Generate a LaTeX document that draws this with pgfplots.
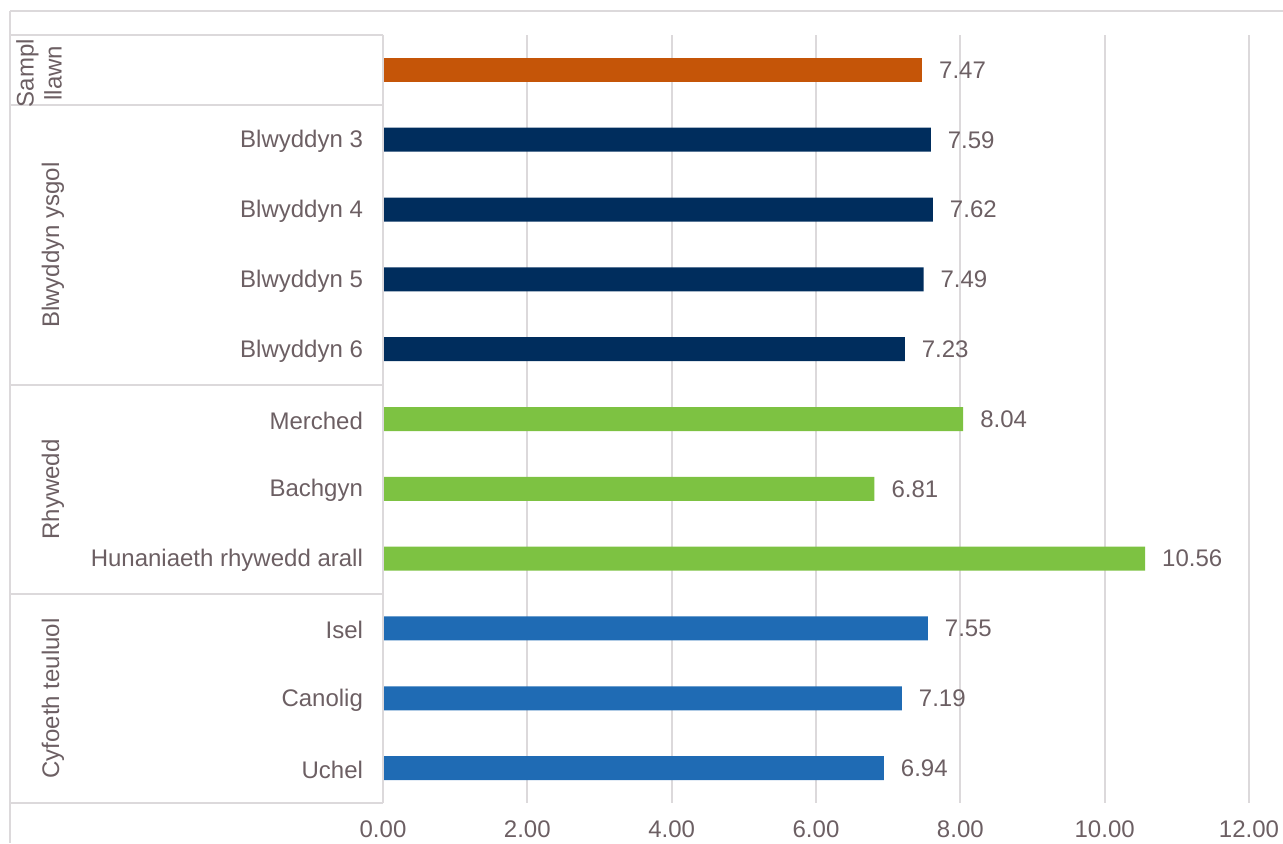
\documentclass[border=0pt]{standalone}
\usepackage{pgfplots}
\pgfplotsset{compat=1.18}
\usepackage{fontspec}
\setmainfont{Liberation Sans}
\definecolor{txt}{RGB}{108,95,99}
\definecolor{gridc}{RGB}{220,217,219}
\definecolor{corange}{RGB}{197,85,8}
\definecolor{cnavy}{RGB}{0,45,93}
\definecolor{cgreen}{RGB}{125,194,66}
\definecolor{cblue}{RGB}{31,107,180}
\begin{document}
\begin{tikzpicture}
\useasboundingbox (0,0) rectangle (641.5pt,421.5pt);
\begin{axis}[
  at={(191.5pt,20pt)}, anchor=south west,
  scale only axis, width=433pt, height=384pt,
  xbar, bar width=12pt,
  xmin=0, xmax=12, ymin=-0.5, ymax=10.5, y dir=reverse,
  xtick={0,2,4,6,8,10,12},
  /pgf/number format/assume math mode=true,
  /pgf/number format/fixed,
  /pgf/number format/fixed zerofill,
  /pgf/number format/precision=2,
  xmajorgrids, grid style={gridc, line width=1pt},
  axis line style={draw=none},
  ytick={0,1,2,3,4,5,6,7,8,9,10},
  yticklabels={,Blwyddyn 3,Blwyddyn 4,Blwyddyn 5,Blwyddyn 6,Merched,Bachgyn,Hunaniaeth rhywedd arall,Isel,Canolig,Uchel},
  major tick length=0pt,
  yticklabel style={font=\fontsize{12}{14}\selectfont, text=txt, xshift=-6.5pt, yshift=-0.8pt},
  xticklabel style={font=\fontsize{12}{14}\selectfont, text=txt, yshift=-5.5pt},
  nodes near coords,
  nodes near coords style={font=\fontsize{12}{14}\selectfont, text=txt, anchor=west, xshift=5pt},
  clip=false,
]
\addplot[fill=corange, draw=none, bar shift=0pt] coordinates {(7.47,0)};
\addplot[fill=cnavy, draw=none, bar shift=0pt] coordinates {(7.59,1) (7.62,2) (7.49,3) (7.23,4)};
\addplot[fill=cgreen, draw=none, bar shift=0pt] coordinates {(8.04,5) (6.81,6) (10.56,7)};
\addplot[fill=cblue, draw=none, bar shift=0pt] coordinates {(7.55,8) (7.19,9) (6.94,10)};
\end{axis}
\begin{scope}[x=0.5pt, y=-0.5pt, shift={(0pt,421.5pt)}]
  \draw[gridc, line width=1pt] (10,11) -- (1283,11);
  \draw[gridc, line width=1pt] (10,11) -- (10,843);
  \foreach \yy in {35,105,385,594,803} \draw[gridc, line width=1pt] (10,\yy) -- (383,\yy);
  \draw[gridc, line width=1pt] (383,35) -- (383,803);
  \node[rotate=90, text=txt, font=\fontsize{12}{14}\selectfont, align=center] at (39,73) {Sampl\\llawn};
  \node[rotate=90, text=txt, font=\fontsize{12}{14}\selectfont] at (53,245) {Blwyddyn ysgol};
  \node[rotate=90, text=txt, font=\fontsize{12}{14}\selectfont] at (53,489.5) {Rhywedd};
  \node[rotate=90, text=txt, font=\fontsize{12}{14}\selectfont] at (53,698.5) {Cyfoeth teuluol};
\end{scope}
\end{tikzpicture}
\end{document}
